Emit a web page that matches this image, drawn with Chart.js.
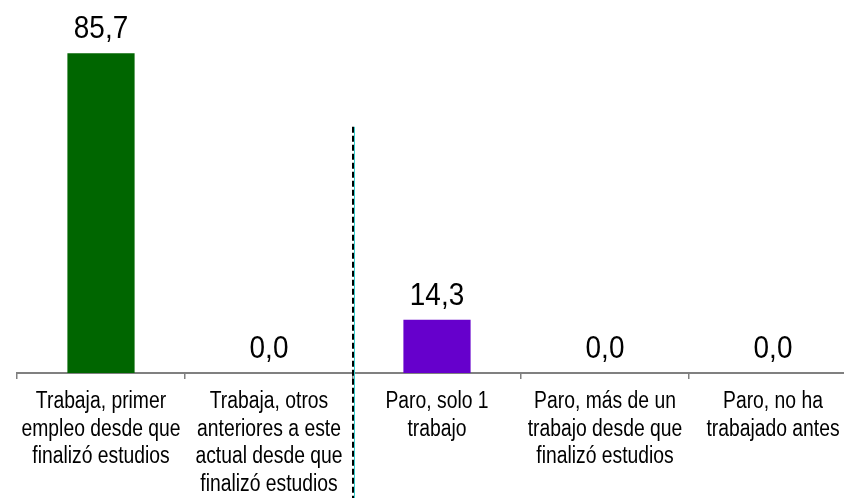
<!DOCTYPE html>
<html lang="es">
<head>
    <meta charset="UTF-8">
    <title>Situación laboral</title>
    <script src="https://cdn.jsdelivr.net/npm/chart.js"></script>
    <style>
        body {
            margin: 0;
            background: white;
            overflow: hidden;
        }
        .wrap {
            width: 857px;
            height: 498px;
        }
    </style>
</head>
<body>
    <div class="wrap"><canvas id="chart"></canvas></div>
    <script>
        const categories = [
            ["Trabaja, primer", "empleo desde que", "finalizó estudios"],
            ["Trabaja, otros", "anteriores a este", "actual desde que", "finalizó estudios"],
            ["Paro, solo 1", "trabajo"],
            ["Paro, más de un", "trabajo desde que", "finalizó estudios"],
            ["Paro, no ha", "trabajado antes"]
        ];
        const values = [85.7, 0.0, 14.3, 0.0, 0.0];
        const barColors = ["#006600", "#006600", "#6600CC", "#6600CC", "#6600CC"];

        const FONT = "'Liberation Sans', Arial, sans-serif";

        // value labels above bars, with comma decimals (slightly condensed like the original)
        const valueLabels = {
            id: "valueLabels",
            afterDatasetsDraw(chart) {
                const ctx = chart.ctx;
                const meta = chart.getDatasetMeta(0);
                ctx.save();
                ctx.font = "31px " + FONT;
                ctx.fillStyle = "#000";
                ctx.textAlign = "center";
                ctx.textBaseline = "alphabetic";
                meta.data.forEach((bar, i) => {
                    const txt = values[i].toFixed(1).replace(".", ",");
                    ctx.save();
                    ctx.translate(bar.x, bar.y - 15);
                    ctx.scale(0.9, 1);
                    ctx.fillText(txt, 0, 0);
                    ctx.restore();
                });
                ctx.restore();
            }
        };

        // category labels drawn condensed under the axis
        const catLabels = {
            id: "catLabels",
            afterDraw(chart) {
                const ctx = chart.ctx;
                const xs = chart.scales.x;
                const base = chart.chartArea.bottom;
                ctx.save();
                ctx.font = "23px " + FONT;
                ctx.fillStyle = "#000";
                ctx.textAlign = "center";
                ctx.textBaseline = "middle";
                categories.forEach((lines, i) => {
                    const x = xs.getPixelForValue(i);
                    lines.forEach((line, k) => {
                        ctx.save();
                        ctx.translate(x, base + 29 + k * 27.5);
                        ctx.scale(0.84, 1);
                        ctx.fillText(line, 0, 0);
                        ctx.restore();
                    });
                });
                ctx.restore();
            }
        };

        // dashed separator between "Trabaja" and "Paro" groups
        const separator = {
            id: "separator",
            afterDraw(chart) {
                const ctx = chart.ctx;
                const x = Math.round(chart.scales.x.getPixelForValue(1.5));
                const top = chart.scales.y.getPixelForValue(66);
                ctx.save();
                ctx.lineWidth = 1;
                ctx.strokeStyle = "#33CCCC";
                ctx.beginPath();
                ctx.moveTo(x + 1.5, top);
                ctx.lineTo(x + 1.5, chart.height);
                ctx.stroke();
                ctx.lineWidth = 2;
                ctx.strokeStyle = "#000";
                ctx.setLineDash([6, 3]);
                ctx.beginPath();
                ctx.moveTo(x, top);
                ctx.lineTo(x, chart.height);
                ctx.stroke();
                ctx.restore();
            }
        };

        new Chart(document.getElementById("chart"), {
            type: "bar",
            data: {
                labels: categories,
                datasets: [{
                    data: values,
                    backgroundColor: barColors,
                    categoryPercentage: 1,
                    barPercentage: 0.4
                }]
            },
            options: {
                responsive: true,
                maintainAspectRatio: false,
                animation: false,
                layout: { padding: { left: 17, right: 0, top: 0, bottom: 0 } },
                plugins: {
                    legend: { display: false },
                    tooltip: { enabled: false }
                },
                scales: {
                    x: {
                        offset: true,
                        grid: {
                            offset: true,
                            drawOnChartArea: false,
                            color: "#808080",
                            tickLength: 6,
                            lineWidth: 1.5
                        },
                        border: { color: "#808080", width: 2 },
                        ticks: { display: false },
                        afterFit(scale) { scale.height = 125; }
                    },
                    y: {
                        display: false,
                        min: 0,
                        max: 100
                    }
                }
            },
            plugins: [valueLabels, catLabels, separator]
        });
    </script>
</body>
</html>
